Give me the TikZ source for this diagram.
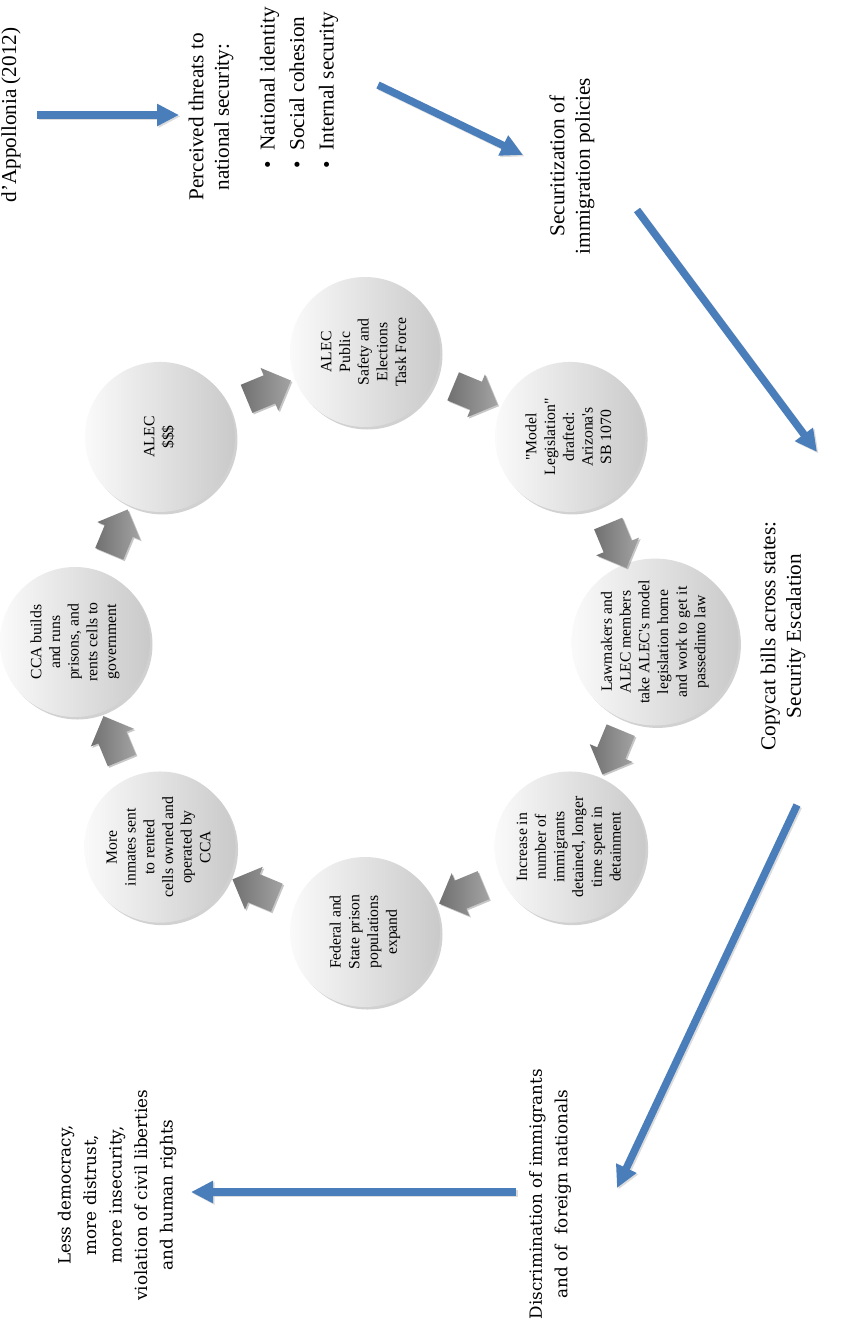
\documentclass[tikz,border=0pt]{standalone}
\usepackage{graphicx}
\usepackage{fontspec}
\setmainfont{Liberation Serif}
\newfontfamily\centfont{DejaVu Serif}
\usetikzlibrary{shapes.arrows,shadows,arrows.meta,calc}
\definecolor{arrblue}{RGB}{74,126,187}
\newcommand{\outerfont}{\fontsize{21.2}{25.5}\selectfont}
\newcommand{\bulfont}{\fontsize{21.2}{29.5}\selectfont}
\newcommand{\circfont}{\fontsize{15.7}{18.7}\selectfont}
\newcommand{\botfont}{\centfont\fontsize{16.8}{25.5}\selectfont}
\newcommand{\rottext}[1]{\rotatebox{90}{\circfont\begin{tabular}{@{}c@{}}#1\end{tabular}}}
\begin{document}
\begin{tikzpicture}[x=1pt,y=1pt,
  cyc/.style={circle, minimum size=150pt, inner sep=0pt, left color=black!2, right color=black!21,
    drop shadow={shadow xshift=2.5pt, shadow yshift=-2.5pt, opacity=0.18, fill=black}},
  garrow/.style={single arrow, text width=0pt, text height=15pt, text depth=15pt, inner sep=0pt,
    minimum height=48pt, single arrow head extend=8pt, single arrow tip angle=90,
    left color=black!56, right color=black!36,
    drop shadow={shadow xshift=1.5pt, shadow yshift=-1.5pt, opacity=0.22, fill=black}},
  otext/.style={rotate=90, font=\outerfont, align=center, inner sep=0pt},
  barrow/.style={draw=arrblue, line width=7.5pt, -{Triangle[width=21pt,length=22pt]}},
  bshadow/.style={draw=black!30, line width=7.5pt, opacity=0.45, -{Triangle[width=21pt,length=22pt]},
    transform canvas={xshift=1.5pt,yshift=-1.5pt}}
]
\fill[white] (0,0) rectangle (841,-1330);
\useasboundingbox (0,0) rectangle (841,-1330);

% outer texts
\node[otext] (dap) at (11,-115) {d'Appollonia (2012)};
\node[otext] (threat) at (211,-117) {Perceived threats to\\national security:};
\node[otext, font=\bulfont, align=left, anchor=west] (bul) at (299,-169)
  {\textbullet\hspace{11pt}National identity\\\textbullet\hspace{11pt}Social cohesion\\\textbullet\hspace{11pt}Internal security};
\node[otext] (secu) at (572,-166) {Securitization of\\immigration policies};
\node[otext] (copy) at (783,-636) {Copycat bills across states:\\Security Escalation};
\node[otext, font=\botfont] (disc) at (550,-1194) {Discrimination of immigrants\\and of\ \ foreign nationals};
\node[otext, font=\botfont] (less) at (117,-1195) {Less democracy,\\more distrust,\\more insecurity,\\violation of civil liberties\\and human rights};

% blue arrow end points
\coordinate (a1s) at (37,-115);   \coordinate (a1e) at (179,-115);
\coordinate (a2s) at (378,-85);   \coordinate (a2e) at (523,-155);
\coordinate (a3s) at (637,-210);  \coordinate (a3e) at (817,-452);
\coordinate (a4s) at (797,-805);  \coordinate (a4e) at (617,-1188);
\coordinate (a5s) at (516,-1192); \coordinate (a5e) at (191,-1192);

\foreach \s/\e in {a1s/a1e,a2s/a2e,a3s/a3e,a4s/a4e,a5s/a5e}{
  \draw[bshadow] (\s) -- (\e);
  \draw[barrow] (\s) -- (\e);
}

% cycle
\coordinate (ctr) at (365,-642);
\node[cyc] (c1) at ($(ctr)+(135:290)$) {\rottext{ALEC\\\$\$\$}};
\node[cyc] (c2) at ($(ctr)+(90:290)$) {\rottext{ALEC\\Public\\Safety and\\Elections\\Task Force}};
\node[cyc] (c3) at ($(ctr)+(45:290)$) {\rottext{\textquotedbl Model\\Legislation\textquotedbl\\drafted:\\Arizona\textquotesingle s\\SB 1070}};
\node[cyc] (c4) at ($(ctr)+(0:290)$) {\rottext{Lawmakers and\\ALEC members\\take ALEC\textquotesingle s model\\legislation home\\and work to get it\\passedinto law}};
\node[cyc] (c5) at ($(ctr)+(-45:290)$) {\rottext{Increase in\\number of\\immigrants\\detained, longer\\time spent in\\detainment}};
\node[cyc] (c6) at ($(ctr)+(-90:290)$) {\rottext{Federal and\\State prison\\populations\\expand}};
\node[cyc] (c7) at ($(ctr)+(-135:290)$) {\rottext{More\\inmates sent\\to rented\\cells owned and\\operated by\\CCA}};
\node[cyc] (c8) at ($(ctr)+(180:290)$) {\rottext{CCA builds\\and runs\\prisons, and\\rents cells to\\government}};

% gray block arrows
\node[garrow, rotate=22.5]  (g12) at ($(ctr)+(112.5:270)$) {};
\node[garrow, rotate=-22.5] (g23) at ($(ctr)+(67.5:270)$) {};
\node[garrow, rotate=-67.5] (g34) at ($(ctr)+(22.5:270)$) {};
\node[garrow, rotate=-112.5] (g45) at ($(ctr)+(-22.5:270)$) {};
\node[garrow, rotate=-157.5] (g56) at ($(ctr)+(-67.5:270)$) {};
\node[garrow, rotate=157.5] (g67) at ($(ctr)+(-112.5:270)$) {};
\node[garrow, rotate=112.5] (g78) at ($(ctr)+(-157.5:270)$) {};
\node[garrow, rotate=67.5]  (g81) at ($(ctr)+(157.5:270)$) {};
\end{tikzpicture}
\end{document}
